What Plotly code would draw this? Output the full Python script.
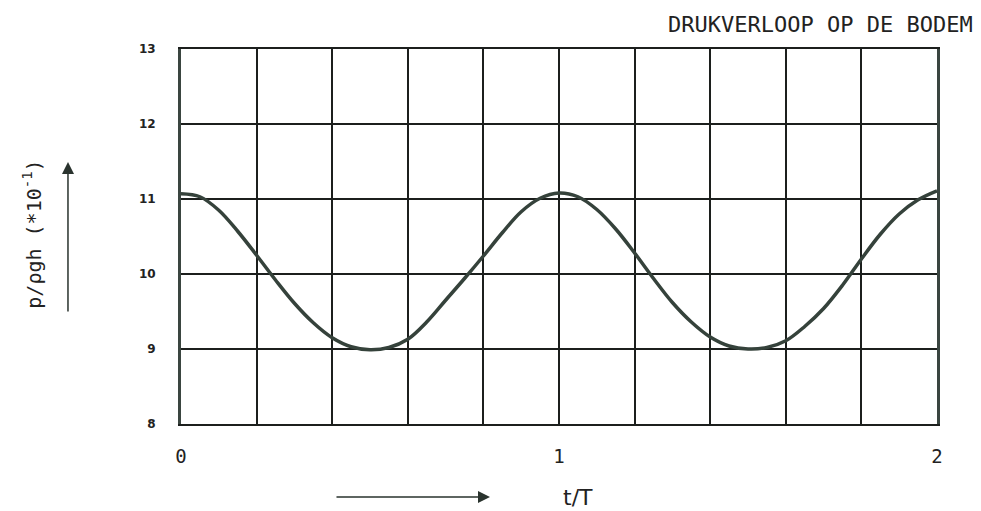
import plotly.graph_objects as go

# ---- data ----
t_values = [0.00, 0.05, 0.10, 0.15, 0.20, 0.25, 0.30, 0.35, 0.40, 0.45,
            0.50, 0.55, 0.60, 0.65, 0.70, 0.75, 0.80, 0.85, 0.90, 0.95,
            1.00, 1.05, 1.10, 1.15, 1.20, 1.25, 1.30, 1.35, 1.40, 1.45,
            1.50, 1.55, 1.60, 1.65, 1.70, 1.75, 1.80, 1.85, 1.90, 1.95, 2.00]
p_values = [11.07, 11.03, 10.85, 10.57, 10.25, 9.92, 9.61, 9.35, 9.15, 9.03,
            8.99, 9.02, 9.13, 9.36, 9.65, 9.94, 10.24, 10.55, 10.83, 11.01,
            11.08, 11.03, 10.86, 10.60, 10.28, 9.94, 9.62, 9.36, 9.16, 9.04,
            9.00, 9.02, 9.11, 9.30, 9.54, 9.85, 10.20, 10.53, 10.80, 10.99, 11.11]

x_grid = [0.0, 0.2, 0.4, 0.6, 0.8, 1.0, 1.2, 1.4, 1.6, 1.8, 2.0]
x_tick_text = ["0", "", "", "", "", "1", "", "", "", "", "2"]
y_ticks = [8, 9, 10, 11, 12, 13]
y_tick_text = ["8", "9", "10", "11", "12", "13"]

title_text = "DRUKVERLOOP OP DE BODEM"
y_title = "p/ρgh (*10<sup>-1</sup>)"
x_title = "t/T"

line_col = "#35423b"
grid_col = "#1c1f1d"

fig = go.Figure()
fig.add_trace(go.Scatter(
    x=t_values, y=p_values, mode="lines",
    line=dict(color=line_col, width=3.5, shape="spline", smoothing=1.0),
    showlegend=False, hoverinfo="skip",
))

fig.update_layout(
    width=973, height=503,
    margin=dict(l=173, r=44, t=41, b=87),
    paper_bgcolor="white", plot_bgcolor="white",
    xaxis=dict(
        range=[0, 2], tickmode="array", tickvals=x_grid, ticktext=x_tick_text,
        showgrid=True, gridcolor=grid_col, gridwidth=1.6,
        zeroline=False, showline=True, linecolor=grid_col, linewidth=2, mirror=True,
        ticks="", ticklabelstandoff=14,
        tickfont=dict(family="DejaVu Sans Mono", size=19, color="#222"),
    ),
    yaxis=dict(
        range=[8, 13], tickmode="array", tickvals=y_ticks, ticktext=y_tick_text,
        showgrid=True, gridcolor=grid_col, gridwidth=1.6,
        zeroline=False, showline=True, linecolor="#3a4540", linewidth=3, mirror=True,
        ticks="", ticklabelstandoff=20,
        tickfont=dict(family="DejaVu Sans", size=12, color="#222", weight="bold"),
    ),
    annotations=[
        dict(text=title_text, xref="paper", yref="paper", x=1.05, y=1.064,
             xanchor="right", yanchor="middle", showarrow=False,
             font=dict(family="DejaVu Sans Mono", size=22, color="#222")),
        dict(text=y_title, xref="paper", yref="paper", x=-0.197, y=0.505,
             xanchor="center", yanchor="middle", textangle=-90, showarrow=False,
             font=dict(family="DejaVu Sans Mono", size=20, color="#222")),
        dict(text=x_title, xref="paper", yref="paper", x=0.525, y=-0.195,
             xanchor="center", yanchor="middle", showarrow=False,
             font=dict(family="DejaVu Sans", size=22, color="#222")),
        dict(text="", xref="paper", yref="paper", x=-0.1495, y=0.699,
             ax=0, ay=151, showarrow=True, arrowhead=2, arrowsize=1.6,
             arrowwidth=1.5, arrowcolor="#2a332e"),
        dict(text="", xref="paper", yref="paper", x=0.4087, y=-0.1947,
             ax=-155, ay=0, showarrow=True, arrowhead=2, arrowsize=1.6,
             arrowwidth=1.5, arrowcolor="#2a332e"),
    ],
)

fig.write_html("out.html")
